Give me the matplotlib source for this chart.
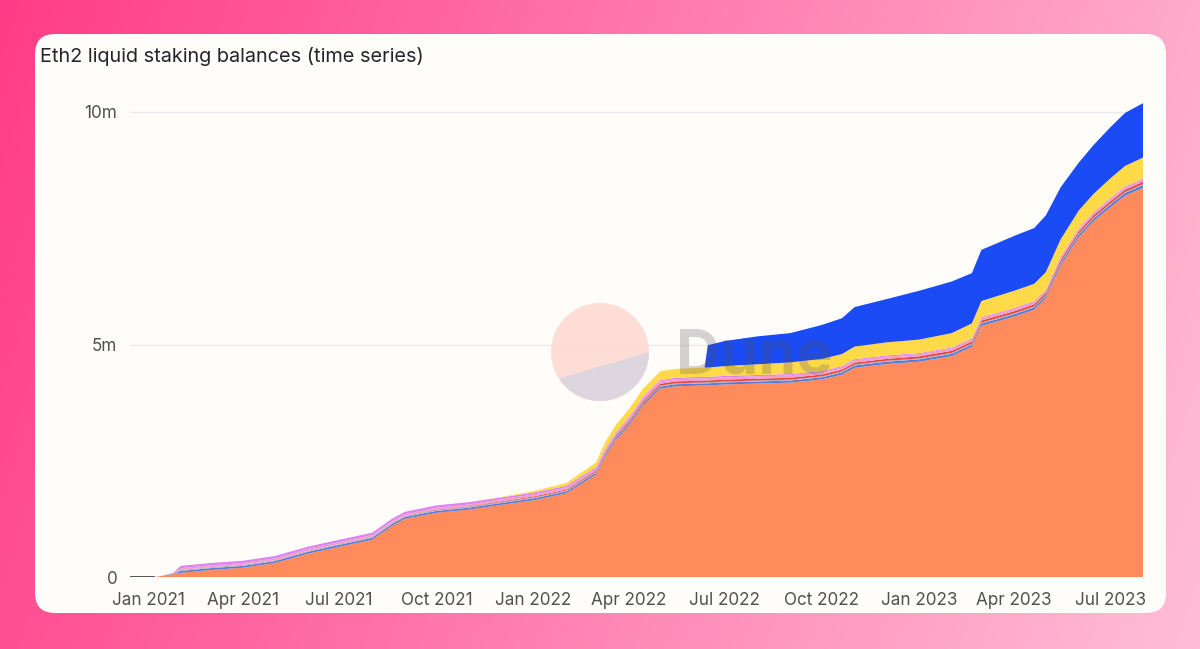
import numpy as np
import pandas as pd
import matplotlib
matplotlib.use("Agg")
import matplotlib.pyplot as plt
import matplotlib.dates as mdates
from matplotlib.patches import FancyBboxPatch, Circle, Polygon
from matplotlib.ticker import FixedLocator, FuncFormatter

plt.rcParams['font.family'] = ['Inter', 'DejaVu Sans']

# data (millions of ETH)
dates = ['2020-12-15', '2021-01-07', '2021-01-15', '2021-01-25', '2021-02-01',
         '2021-03-01', '2021-04-01', '2021-05-01', '2021-06-01', '2021-07-01',
         '2021-08-01', '2021-08-20', '2021-09-01', '2021-10-01', '2021-11-01',
         '2021-12-01', '2022-01-01', '2022-02-01', '2022-03-01', '2022-03-10',
         '2022-03-20', '2022-04-01', '2022-04-15', '2022-05-01', '2022-05-15',
         '2022-06-12', '2022-06-15', '2022-07-01', '2022-08-01', '2022-09-01',
         '2022-10-01', '2022-10-20', '2022-11-01', '2022-12-01', '2023-01-01',
         '2023-02-01', '2023-02-20', '2023-03-01', '2023-04-01', '2023-04-20',
         '2023-05-01', '2023-05-15', '2023-06-01', '2023-06-15', '2023-07-01',
         '2023-07-15', '2023-08-01']

lido = [0, 0, 0.03, 0.06, 0.09, 0.15, 0.2, 0.3, 0.5, 0.65,
        0.8, 1.1, 1.25, 1.38, 1.45, 1.55, 1.65, 1.8, 2.2, 2.6,
        2.95, 3.25, 3.7, 4.05, 4.1, 4.12, 4.12, 4.14, 4.16, 4.18,
        4.25, 4.35, 4.5, 4.58, 4.63, 4.75, 4.95, 5.4, 5.6, 5.75,
        6.0, 6.7, 7.3, 7.65, 7.95, 8.2, 8.37]

steel = [0, 0, 0, 0.01, 0.04, 0.04, 0.04, 0.04, 0.04, 0.04,
         0.04, 0.04, 0.04, 0.04, 0.04, 0.04, 0.04, 0.04, 0.04, 0.04,
         0.04, 0.045, 0.045, 0.045, 0.045, 0.045, 0.045, 0.045, 0.045, 0.045,
         0.045, 0.05, 0.05, 0.05, 0.05, 0.05, 0.05, 0.05, 0.05, 0.05,
         0.05, 0.055, 0.055, 0.055, 0.06, 0.06, 0.06]

grey = [0, 0, 0, 0.005, 0.02, 0.02, 0.02, 0.02, 0.02, 0.02,
        0.02, 0.02, 0.02, 0.02, 0.02, 0.02, 0.02, 0.02, 0.02, 0.02,
        0.02, 0.02, 0.02, 0.02, 0.02, 0.02, 0.02, 0.02, 0.02, 0.02,
        0.02, 0.02, 0.02, 0.02, 0.02, 0.02, 0.02, 0.02, 0.02, 0.02,
        0.02, 0.02, 0.02, 0.02, 0.02, 0.02, 0.02]

red = [0, 0, 0, 0, 0, 0, 0, 0, 0, 0,
       0, 0, 0, 0.01, 0.01, 0.015, 0.02, 0.02, 0.025, 0.03,
       0.03, 0.035, 0.035, 0.04, 0.04, 0.04, 0.04, 0.04, 0.04, 0.04,
       0.04, 0.04, 0.04, 0.04, 0.045, 0.045, 0.045, 0.045, 0.045, 0.045,
       0.045, 0.045, 0.05, 0.05, 0.05, 0.05, 0.05]

pink = [0, 0, 0, 0.01, 0.04, 0.04, 0.04, 0.04, 0.04, 0.04,
        0.04, 0.04, 0.04, 0.04, 0.04, 0.045, 0.045, 0.045, 0.045, 0.045,
        0.045, 0.05, 0.05, 0.05, 0.05, 0.05, 0.05, 0.05, 0.05, 0.05,
        0.05, 0.05, 0.05, 0.05, 0.05, 0.05, 0.05, 0.05, 0.05, 0.05,
        0.05, 0.05, 0.05, 0.05, 0.05, 0.05, 0.05]

violet = [0, 0, 0, 0.01, 0.05, 0.05, 0.05, 0.05, 0.05, 0.05,
          0.05, 0.05, 0.05, 0.05, 0.05, 0.04, 0.04, 0.035, 0.03, 0.03,
          0.03, 0.03, 0.03, 0.03, 0.03, 0.03, 0.03, 0.03, 0.03, 0.03,
          0.025, 0.025, 0.025, 0.025, 0.02, 0.02, 0.02, 0.02, 0.02, 0.02,
          0.02, 0.02, 0.02, 0.02, 0.02, 0.02, 0.02]

yellow = [0, 0, 0, 0, 0, 0, 0, 0, 0, 0,
          0, 0, 0, 0, 0, 0.01, 0.03, 0.06, 0.1, 0.14,
          0.16, 0.17, 0.18, 0.19, 0.19, 0.2, 0.2, 0.21, 0.23, 0.25,
          0.26, 0.26, 0.27, 0.28, 0.29, 0.31, 0.32, 0.35, 0.37, 0.37,
          0.37, 0.37, 0.38, 0.39, 0.42, 0.44, 0.45]

blue = [0, 0, 0, 0, 0, 0, 0, 0, 0, 0,
        0, 0, 0, 0, 0, 0, 0, 0, 0, 0,
        0, 0, 0, 0, 0, 0, 0.48, 0.54, 0.6, 0.63,
        0.73, 0.77, 0.85, 0.93, 1.05, 1.11, 1.08, 1.1, 1.18, 1.2,
        1.22, 1.12, 1.03, 1.05, 1.1, 1.14, 1.17]

colors = ['#FF8A5C', '#5B7BD8', '#A7B2C4', '#E5483B', '#F39CC6', '#DC82F2',
          '#FFDA48', '#1A4BF5']

W, H = 1200, 649
fig = plt.figure(figsize=(W / 100, H / 100), dpi=100)

# pink gradient background + card
bg = fig.add_axes([0, 0, 1, 1], zorder=-2)
bg.set_xlim(0, W)
bg.set_ylim(H, 0)
bg.axis('off')
gx, gy = np.meshgrid(np.linspace(0, 1, 300), np.linspace(0, 1, 160))
t = np.clip(gx * 0.85 + gy * 0.15, 0, 1)[..., None]
c0 = np.array([255, 60, 135]) / 255
c1 = np.array([255, 190, 214]) / 255
bg.imshow(c0 + (c1 - c0) * t, extent=[0, W, H, 0], aspect='auto')
bg.add_patch(FancyBboxPatch((35, 34), 1131, 579,
                            boxstyle='round,pad=0,rounding_size=20',
                            fc='#FFFDFA', ec='none'))
bg.text(40, 57, 'Eth2 liquid staking balances (time series)', fontsize=14.3,
        color='#24242C', va='center', ha='left')

# main chart
x0, x1, ytop, ybot = 130, 1143, 98, 577
ax = fig.add_axes([x0 / W, 1 - ybot / H, (x1 - x0) / W, (ybot - ytop) / H])
ax.patch.set_alpha(0)
d = pd.to_datetime(dates)
layers = [lido, steel, grey, red, pink, violet, yellow, blue]
ax.stackplot(d, *[np.array(l) * 1e6 for l in layers], colors=colors,
             linewidth=0, zorder=2)
ax.plot(d[:2], [0, 0], color='#3A3A3A', lw=1.2, zorder=3)

top_val = 10e6 * (ybot - ytop) / (ybot - 112)
ax.set_ylim(0, top_val)
ax.set_xlim(pd.Timestamp('2020-12-15'), pd.Timestamp('2023-08-01'))
ax.yaxis.set_major_locator(FixedLocator([0, 5e6, 10e6]))
ax.yaxis.set_major_formatter(FuncFormatter(lambda v, p: '0' if v == 0 else f'{v / 1e6:.0f}m'))
ax.xaxis.set_major_locator(mdates.MonthLocator(bymonth=[1, 4, 7, 10]))
ax.xaxis.set_major_formatter(mdates.DateFormatter('%b %Y'))
ax.grid(axis='y', color='#EBEBEB', lw=1, zorder=1)
ax.set_axisbelow(True)
for s in ax.spines.values():
    s.set_visible(False)
ax.tick_params(length=0, labelsize=12.3, colors='#505050')
ax.tick_params(axis='y', pad=9)
ax.tick_params(axis='x', pad=11)

# Dune watermark
wm = fig.add_axes([0, 0, 1, 1], zorder=10)
wm.set_xlim(0, W)
wm.set_ylim(H, 0)
wm.axis('off')
cx, cy, r = 600, 352, 49
wm.add_patch(Circle((cx, cy), r, fc='#FDD8CF', ec='none', alpha=0.85))
th = np.radians(np.linspace(213, 360, 60))
seg = np.column_stack([cx + r * np.cos(th), cy - r * np.sin(th)])
wm.add_patch(Polygon(seg, closed=True, fc='#DAD6E1', ec='none', alpha=0.9))
wm.text(676, 374, 'Dune', fontsize=44, fontweight='bold', color='#555555',
        alpha=0.25, ha='left', va='baseline')

fig.savefig('out.png', dpi=100)
